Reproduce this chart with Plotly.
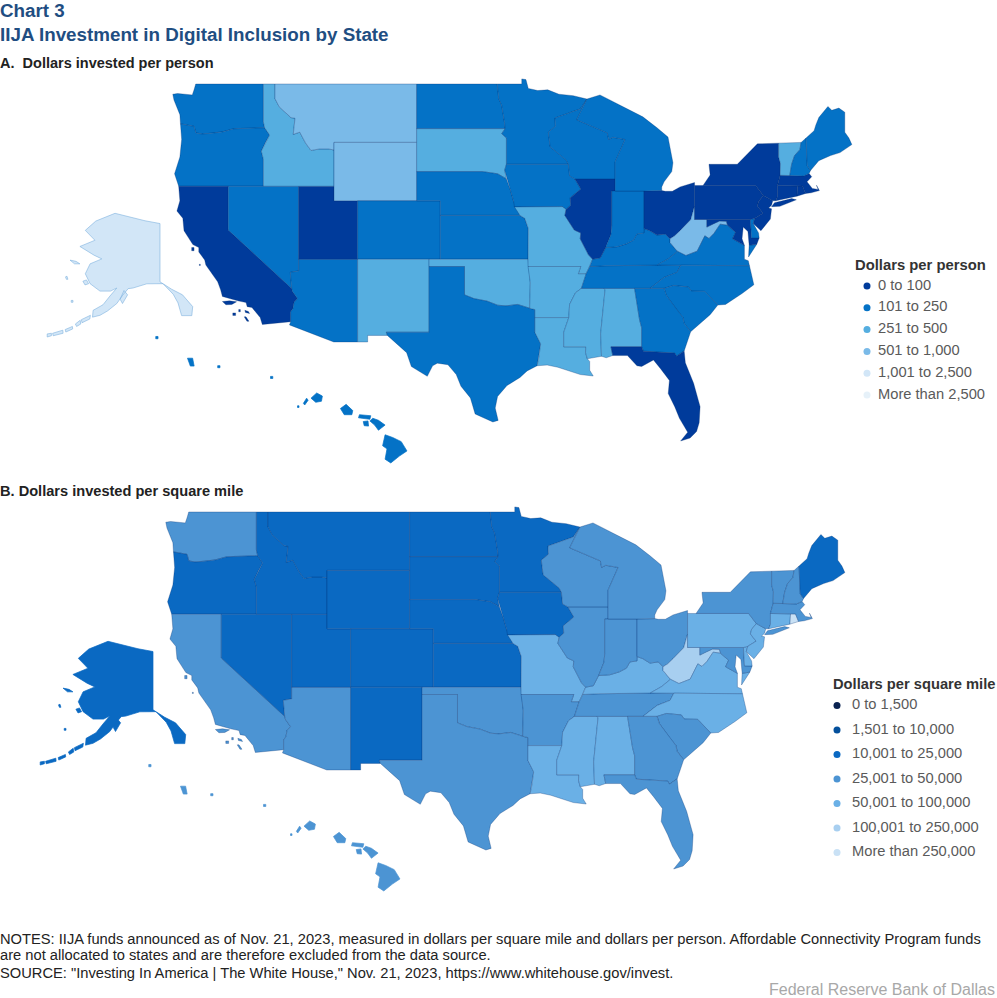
import plotly.graph_objects as go

W, H = 997, 998
FONT = "Arial, Liberation Sans, sans-serif"

STATES = ["WA","OR","CA","NV","AZ","UT","ID","MT","WY","CO","NM","ND","SD","NE","KS","OK","TX","MN","IA","MO","AR","LA",
          "MS","AL","TN","KY","IL","IN","OH","WV","VA","NC","SC","GA","FL","MD","DE","PA","NJ","NY","CT","RI","MA","VT",
          "NH","ME","WI","MI","AK","HI"]
# class index (0 = first legend row)
BIN_PER_PERSON = [1,1,0,1,1,0,2,3,3,1,2,1,2,1,1,2,1,1,1,2,2,2,
                  2,2,1,1,0,1,0,3,1,1,1,1,0,0,1,0,0,0,0,0,0,2,
                  1,1,1,1,4,1]
BIN_PER_SQMILE = [3,2,3,2,3,2,2,2,2,2,2,2,2,2,2,3,3,2,2,4,3,4,
                  4,4,3,4,3,3,3,5,4,4,3,3,3,3,4,4,4,3,4,6,3,3,
                  3,2,3,3,2,3]
LABELS_PERSON = ["0 to 100","101 to 250","251 to 500","501 to 1,000","1,001 to 2,500","More than 2,500"]
LABELS_SQMILE = ["0 to 1,500","1,501 to 10,000","10,001 to 25,000","25,001 to 50,000","50,001 to 100,000",
                 "100,001 to 250,000","More than 250,000"]
COLORS_PERSON = ["#003b9b","#0472c6","#55aee0","#7abae8","#d2e6f7","#e6f1f9"]
COLORS_SQMILE = ["#0a2351","#04509c","#0a69c2","#4c94d3","#6ab0e6","#a8cff0","#c9e1f5"]

# State outlines, longitude / latitude rings
BOUNDARIES = {
"WA":[[(-117.03,49),(-122.76,49),(-122.9,48.6),(-123.05,48.25),(-124.3,48.35),(-124.7,48.3),(-124.6,47.9),(-124.1,46.9),(-124.05,46.27),(-123.4,46.2),(-122.9,46.1),(-122.75,45.65),(-122.2,45.57),(-121.2,45.65),(-120.5,45.72),(-119.6,45.92),(-119.0,45.95),(-116.92,46.0),(-117.03,46.4)]],
"OR":[[(-124.05,46.27),(-123.4,46.2),(-122.9,46.1),(-122.75,45.65),(-122.2,45.57),(-121.2,45.65),(-120.5,45.72),(-119.6,45.92),(-119.0,45.95),(-116.92,46.0),(-116.5,45.5),(-116.85,45.0),(-117.2,44.4),(-117.03,43.85),(-117.03,42),(-124.2,42),(-124.55,42.85),(-124.1,44),(-123.95,45.2)]],
"CA":[[(-124.2,42),(-120,42),(-120,39),(-114.63,35.0),(-114.57,34.8),(-114.14,34.3),(-114.43,34.05),(-114.53,33.6),(-114.72,33.4),(-114.72,32.72),(-117.12,32.53),(-117.3,33.0),(-118.0,33.7),(-118.4,33.75),(-118.5,34.03),(-119.2,34.15),(-120.5,34.45),(-120.65,34.9),(-120.9,35.45),(-121.9,36.6),(-122.0,36.95),(-122.5,37.5),(-122.5,37.8),(-123.0,38.0),(-123.75,38.95),(-123.85,39.8),(-124.35,40.3),(-124.1,41.0)],
      [(-120.5,34.1),(-119.9,34.15),(-119.3,34.08),(-119.7,33.9),(-120.2,33.88)],[(-118.6,33.5),(-118.3,33.42),(-118.2,33.28),(-118.55,33.35)],[(-118.65,33.05),(-118.42,32.75),(-118.25,32.75),(-118.5,33.05)],[(-119.62,33.32),(-119.38,33.32),(-119.38,33.15),(-119.62,33.15)],[(-119.12,33.55),(-118.98,33.55),(-118.98,33.4),(-119.12,33.4)],[(-123.1,37.8),(-122.9,37.8),(-122.9,37.58),(-123.1,37.58)],[(-122.45,36.65),(-122.37,36.65),(-122.37,36.57),(-122.45,36.57)]],
"NV":[[(-120,42),(-114.04,42),(-114.04,36.2),(-114.75,36.1),(-114.63,35.0),(-120,39)]],
"AZ":[[(-114.04,37),(-109.05,37),(-109.05,31.33),(-111.07,31.33),(-114.82,32.5),(-114.72,32.72),(-114.72,33.4),(-114.53,33.6),(-114.43,34.05),(-114.14,34.3),(-114.57,34.8),(-114.63,35.0),(-114.75,36.1),(-114.04,36.2)]],
"UT":[[(-114.04,42),(-111.05,42),(-111.05,41),(-109.05,41),(-109.05,37),(-114.04,37)]],
"ID":[[(-117.03,49),(-116.05,49),(-116.05,48),(-115.7,47.45),(-114.7,46.7),(-114.35,46.65),(-114.5,45.55),(-113.95,45.7),(-113.45,44.95),(-113.0,44.45),(-112.3,44.55),(-111.5,44.55),(-111.05,44.48),(-111.05,42),(-117.03,42),(-117.03,43.85),(-117.2,44.4),(-116.85,45.0),(-116.5,45.5),(-116.92,46.0),(-117.03,46.4)]],
"MT":[[(-116.05,49),(-104.05,49),(-104.05,45),(-111.05,45),(-111.05,44.48),(-111.5,44.55),(-112.3,44.55),(-113.0,44.45),(-113.45,44.95),(-113.95,45.7),(-114.5,45.55),(-114.35,46.65),(-114.7,46.7),(-115.7,47.45),(-116.05,48)]],
"WY":[[(-111.05,45),(-104.05,45),(-104.05,41),(-111.05,41)]],
"CO":[[(-109.05,41),(-102.05,41),(-102.05,37),(-109.05,37)]],
"NM":[[(-109.05,37),(-103,37),(-103,32),(-106.62,32),(-106.53,31.78),(-108.2,31.78),(-108.2,31.33),(-109.05,31.33)]],
"ND":[[(-104.05,49),(-97.23,49),(-97.1,48.0),(-96.85,47.55),(-96.6,46.3),(-96.56,45.94),(-104.05,45.94)]],
"SD":[[(-104.05,45.94),(-96.56,45.94),(-96.85,45.6),(-96.45,45.3),(-96.45,43.5),(-96.6,43.1),(-96.45,42.5),(-97.2,42.85),(-98.5,43),(-104.05,43)]],
"NE":[[(-104.05,43),(-98.5,43),(-97.2,42.85),(-96.45,42.5),(-96.1,41.7),(-95.85,41.0),(-95.3,40.0),(-102.05,40),(-102.05,41),(-104.05,41)]],
"KS":[[(-102.05,40),(-95.3,40),(-94.9,39.8),(-94.6,39.1),(-94.62,37),(-102.05,37)]],
"OK":[[(-103,37),(-94.62,37),(-94.43,35.4),(-94.48,33.64),(-95.5,33.9),(-96.5,33.8),(-97.2,33.85),(-98.1,34.13),(-99.2,34.3),(-100,34.56),(-100,36.5),(-103,36.5)]],
"TX":[[(-103,36.5),(-100,36.5),(-100,34.56),(-99.2,34.3),(-98.1,34.13),(-97.2,33.85),(-96.5,33.8),(-95.5,33.9),(-94.48,33.64),(-94.04,33.55),(-94.04,33),(-94.04,31.99),(-93.55,31.2),(-93.7,30.3),(-93.85,29.7),(-94.7,29.35),(-95.3,28.9),(-96.4,28.35),(-97.2,27.6),(-97.4,26.8),(-97.15,25.96),(-97.6,25.85),(-98.2,26.05),(-99.1,26.4),(-99.5,27.5),(-100.3,28.3),(-100.7,29.1),(-101.4,29.77),(-102.3,29.88),(-102.7,29.7),(-103.15,28.98),(-104.5,29.65),(-104.9,30.6),(-106.53,31.78),(-106.62,32),(-103,32)]],
"MN":[[(-97.23,49),(-95.15,49),(-95.15,49.35),(-94.8,49.3),(-94.6,48.7),(-93.8,48.55),(-92.95,48.6),(-92.0,48.3),(-90.8,48.2),(-89.63,47.97),(-90.2,47.29),(-92.34,46.67),(-92.3,46.1),(-92.9,45.7),(-92.75,44.7),(-91.4,43.8),(-91.2,43.5),(-96.45,43.5),(-96.45,45.3),(-96.85,45.6),(-96.56,45.94),(-96.6,46.3),(-96.85,47.55),(-97.1,48.0)]],
"IA":[[(-96.45,43.5),(-91.2,43.5),(-91.1,42.7),(-90.65,42.5),(-90.15,41.8),(-91.05,41.2),(-91.0,40.7),(-91.4,40.4),(-91.72,40.6),(-95.77,40.58),(-95.85,41.0),(-96.1,41.7),(-96.45,42.5),(-96.6,43.1)]],
"MO":[[(-95.77,40.58),(-91.72,40.6),(-91.4,40.4),(-91.5,40.0),(-90.7,39.0),(-90.15,38.8),(-90.2,38.4),(-89.5,37.3),(-89.15,37.0),(-89.4,36.5),(-89.7,36.0),(-90.37,36.0),(-90.15,36.5),(-94.62,36.5),(-94.62,37),(-94.6,39.1),(-94.9,39.8),(-95.3,40)]],
"AR":[[(-94.62,36.5),(-90.15,36.5),(-90.37,36),(-89.7,36),(-90.1,35.0),(-90.6,34.7),(-91.1,33.9),(-91.17,33),(-94.04,33),(-94.04,33.55),(-94.48,33.64),(-94.43,35.4)]],
"LA":[[(-94.04,33),(-91.17,33),(-91.6,31.99),(-91.6,31),(-89.73,31),(-89.75,30.6),(-89.6,30.18),(-89.4,30.0),(-89.4,29.4),(-89.1,29.0),(-90.2,29.1),(-91.3,29.4),(-92.1,29.6),(-93.0,29.75),(-93.85,29.7),(-93.7,30.3),(-93.55,31.2),(-94.04,31.99)]],
"MS":[[(-90.1,35),(-88.2,35),(-88.1,34.9),(-88.47,31.9),(-88.4,30.35),(-89.6,30.18),(-89.75,30.6),(-89.73,31),(-91.6,31),(-91.6,31.99),(-91.17,33),(-91.1,33.9),(-90.6,34.7)]],
"AL":[[(-88.2,35),(-85.6,35),(-85.18,32.87),(-85.0,32.3),(-85.0,31),(-87.6,31),(-87.45,30.4),(-88.0,30.25),(-88.4,30.35),(-88.47,31.9),(-88.1,34.9)]],
"TN":[[(-90.1,35),(-89.7,36),(-89.4,36.5),(-88.05,36.55),(-83.68,36.6),(-81.68,36.59),(-82.0,36.1),(-83.1,35.75),(-84.3,35.0),(-85.6,35),(-88.2,35)]],
"KY":[[(-89.4,36.5),(-89.15,37),(-88.5,37.1),(-88.05,37.8),(-87.1,37.85),(-86.3,38.05),(-85.7,38.3),(-85.4,38.73),(-84.8,38.8),(-84.8,39.1),(-84.3,38.95),(-83.7,38.65),(-83.0,38.73),(-82.6,38.4),(-82.6,38.15),(-81.97,37.54),(-82.7,37.05),(-83.68,36.6),(-88.05,36.55)]],
"IL":[[(-90.65,42.5),(-87.25,42.5),(-87.25,41.67),(-87.53,41.67),(-87.53,39.3),(-87.6,38.7),(-88.05,37.8),(-88.5,37.1),(-89.15,37),(-89.5,37.3),(-90.2,38.4),(-90.15,38.8),(-90.7,39),(-91.5,40),(-91.4,40.4),(-91,40.7),(-91.05,41.2),(-90.15,41.8)]],
"IN":[[(-87.53,41.67),(-84.8,41.67),(-84.8,39.1),(-84.8,38.8),(-85.4,38.73),(-85.7,38.3),(-86.3,38.05),(-87.1,37.85),(-88.05,37.8),(-87.6,38.7),(-87.53,39.3)]],
"OH":[[(-84.8,41.67),(-83.3,41.7),(-83.0,41.65),(-82.4,41.65),(-81.75,41.95),(-80.52,42.25),(-80.52,40.64),(-80.85,39.7),(-81.75,38.95),(-82.2,38.6),(-82.6,38.4),(-83,38.73),(-83.7,38.65),(-84.3,38.95),(-84.8,39.1)]],
"WV":[[(-80.52,40.64),(-80.52,39.72),(-79.48,39.72),(-79.48,39.2),(-78.9,39.45),(-78.4,39.62),(-77.83,39.6),(-77.72,39.32),(-78.35,39.4),(-78.87,38.77),(-79.3,38.42),(-79.65,38.6),(-80.3,37.55),(-81.25,37.25),(-81.97,37.54),(-82.6,38.15),(-82.6,38.4),(-82.2,38.6),(-81.75,38.95),(-80.85,39.7)]],
"VA":[[(-83.68,36.6),(-82.7,37.05),(-81.97,37.54),(-81.25,37.25),(-80.3,37.55),(-79.65,38.6),(-79.3,38.42),(-78.87,38.77),(-78.35,39.4),(-77.72,39.32),(-77.05,38.85),(-77.3,38.4),(-76.3,37.95),(-76.3,37.0),(-75.97,36.9),(-75.87,36.55),(-81.68,36.59)],[(-75.9,37.95),(-75.25,38.03),(-75.95,37.15)]],
"NC":[[(-84.3,35),(-83.1,35.75),(-82,36.1),(-81.68,36.59),(-75.87,36.55),(-75.5,35.25),(-76.5,34.65),(-77.9,33.9),(-78.55,33.86),(-79.67,34.8),(-80.8,34.82),(-81.05,35.1),(-82.3,35.2),(-83.1,35.0)]],
"SC":[[(-83.1,35.0),(-82.3,35.2),(-81.05,35.1),(-80.8,34.82),(-79.67,34.8),(-78.55,33.86),(-79.2,33.2),(-80.0,32.6),(-80.85,32.03),(-81.4,32.6),(-81.5,33.0),(-82.0,33.5),(-82.9,34.5)]],
"GA":[[(-85.6,35),(-84.3,35),(-83.1,35),(-82.9,34.5),(-82,33.5),(-81.5,33),(-81.4,32.6),(-80.85,32.03),(-81.4,30.72),(-82.05,30.36),(-82.2,30.57),(-84.86,30.7),(-85,31),(-85,32.3),(-85.18,32.87)]],
"FL":[[(-87.6,31),(-85,31),(-84.86,30.7),(-82.2,30.57),(-82.05,30.36),(-81.4,30.72),(-81.3,29.9),(-80.6,28.5),(-80.05,26.9),(-80.13,25.8),(-80.35,25.2),(-80.9,24.75),(-81.7,24.55),(-81.1,25.15),(-81.8,26.1),(-82.2,26.9),(-82.75,27.8),(-82.65,28.7),(-83.4,29.5),(-84.0,30.1),(-85.0,29.65),(-85.4,29.7),(-86.2,30.4),(-87.45,30.4)]],
"MD":[[(-79.48,39.72),(-75.79,39.72),(-75.7,38.46),(-75.05,38.45),(-75.25,38.03),(-75.9,37.95),(-76.0,38.9),(-76.4,39.2),(-76.5,38.4),(-76.3,37.95),(-77.3,38.4),(-77.05,38.85),(-77.72,39.32),(-77.83,39.6),(-78.4,39.62),(-78.9,39.45),(-79.48,39.2)]],
"DE":[[(-75.79,39.72),(-75.42,39.8),(-75.55,39.45),(-75.1,38.8),(-75.05,38.45),(-75.7,38.46)]],
"PA":[[(-80.52,42.05),(-79.8,42.05),(-75.35,42.05),(-74.7,41.36),(-75.1,40.95),(-75.2,40.65),(-74.72,40.15),(-75.42,39.8),(-75.79,39.72),(-80.52,39.72)]],
"NJ":[[(-74.7,41.36),(-73.9,41.0),(-74.0,40.7),(-74.25,40.5),(-74.0,40.45),(-74.1,39.75),(-74.9,38.95),(-75.55,39.45),(-75.42,39.8),(-74.72,40.15),(-75.2,40.65),(-75.1,40.95)]],
"NY":[[(-79.8,42.05),(-79.2,42.77),(-79.3,43.5),(-76.9,43.5),(-75.2,44.9),(-73.4,44.95),(-73.4,44.0),(-73.25,43.55),(-73.27,42.75),(-73.5,42.05),(-73.5,41.3),(-73.65,41),(-73.9,41.0),(-74.7,41.36),(-75.35,42.05)],[(-74.0,40.6),(-73.75,40.87),(-72.3,41.15),(-71.9,41.07),(-73.3,40.62)]],
"CT":[[(-73.5,42.05),(-71.8,42.02),(-71.85,41.32),(-73.65,41),(-73.5,41.3)]],
"RI":[[(-71.8,42.02),(-71.38,42.02),(-71.12,41.5),(-71.85,41.32)]],
"MA":[[(-73.5,42.05),(-73.27,42.75),(-72.46,42.73),(-71.3,42.7),(-70.82,42.87),(-70.6,42.65),(-71.0,42.3),(-70.55,41.85),(-70.05,41.78),(-70.2,42.07),(-69.95,41.7),(-70.65,41.55),(-71.12,41.5),(-71.38,42.02),(-71.8,42.02)]],
"VT":[[(-73.4,44.95),(-71.5,45),(-71.6,44.5),(-72.05,44.1),(-72.3,43.5),(-72.46,42.73),(-73.27,42.75),(-73.25,43.55),(-73.4,44)]],
"NH":[[(-71.5,45),(-71.08,45.3),(-70.98,43.4),(-70.7,43.07),(-70.82,42.87),(-71.3,42.7),(-72.46,42.73),(-72.3,43.5),(-72.05,44.1),(-71.6,44.5)]],
"ME":[[(-71.08,45.3),(-70.4,45.8),(-70.25,46.2),(-70.0,46.7),(-69.23,47.46),(-68.9,47.2),(-68.3,47.35),(-67.8,47.07),(-67.8,45.7),(-67.45,45.3),(-67.2,44.85),(-68.2,44.3),(-69.0,44.1),(-70.0,43.75),(-70.7,43.07),(-70.98,43.4)]],
"WI":[[(-92.34,46.67),(-90.2,47.29),(-89.63,47.97),(-90.5,46.55),(-87.9,45.65),(-87.8,45.2),(-87.45,45.35),(-86.4,45.2),(-87.25,43.65),(-87.25,42.5),(-90.65,42.5),(-91.1,42.7),(-91.2,43.5),(-91.4,43.8),(-92.75,44.7),(-92.9,45.7),(-92.3,46.1)]],
"MI":[[(-89.63,47.97),(-88.53,48.25),(-84.9,46.75),(-84.4,46.45),(-83.7,46.0),(-82.77,45.37),(-82.35,43.6),(-82.45,43.0),(-83.1,42.3),(-83.3,41.95),(-83.3,41.7),(-84.8,41.67),(-87.25,41.67),(-87.25,43.65),(-86.4,45.2),(-87.45,45.35),(-87.8,45.2),(-87.9,45.65),(-90.5,46.55)]],
"AK":[[(-156,71.35),(-152,70.85),(-146,70.15),(-141,69.7),(-141,60.3),(-137.1,59.1),(-133.5,58.2),(-130.1,56.3),(-130.4,54.85),(-133.8,54.85),(-135,56.9),(-136.6,58.3),(-140,60),(-145.4,59.98),(-150,59.3),(-151.6,59.2),(-153.5,58.1),(-155.4,56.8),(-158.5,55.6),(-161,54.9),(-163.5,54.6),(-163.3,55.7),(-160,56.6),(-157.7,58.0),(-155.4,59.3),(-157.5,58.8),(-161,58.8),(-164.3,60),(-165.9,61.6),(-164.3,63.2),(-160.4,64),(-163,64.6),(-167.7,66),(-162.7,67),(-165.9,68.6),(-162.4,70.1)],
      [(-171,63.8),(-169,63.6),(-167.7,63.2),(-169.5,63.2)],[(-166.7,60.4),(-165.5,60.6),(-164.8,60.0),(-166,59.8)],[(-154.3,57.5),(-153,58.9),(-151.8,58.2),(-153.5,56.8)],[(-172.5,61.1),(-172,61.2),(-171.7,60.7),(-172.2,60.7)],[(-170.6,57.3),(-170,57.3),(-170,57),(-170.6,57)],
      [(-167.2,54.2),(-164.2,54.9),(-164.4,54.3),(-167,53.7)],[(-169.2,53.5),(-167.6,54.1),(-167.4,53.5),(-168.8,53.1)],[(-172.6,52.6),(-170.2,53.1),(-170.1,52.7),(-172.4,52.2)],[(-176.8,52.0),(-173.4,52.5),(-173.3,52.0),(-176.6,51.6)],[(-178.6,51.9),(-177.2,52.0),(-177.2,51.6),(-178.6,51.4)]],
"HI":[[(-155.95,20.28),(-155.55,20.15),(-155.1,19.95),(-154.8,19.5),(-155.2,19.25),(-155.65,18.92),(-155.95,19.1),(-155.85,19.6),(-156.08,19.75)],[(-156.75,20.95),(-156.6,21.08),(-156.3,20.98),(-155.95,20.75),(-156.3,20.5),(-156.5,20.75)],[(-157.35,21.1),(-157.3,21.25),(-156.7,21.2),(-156.75,21.03)],[(-157.1,20.92),(-156.85,20.95),(-156.82,20.7),(-157.05,20.72)],[(-158.3,21.55),(-158.0,21.75),(-157.65,21.45),(-157.7,21.25),(-158.1,21.25)],[(-159.85,22.05),(-159.55,22.3),(-159.25,22.15),(-159.3,21.9),(-159.6,21.85)],[(-160.25,21.8),(-160.08,22.05),(-160.0,21.95),(-160.18,21.72)],
      [(-160.56,21.68),(-160.48,21.68),(-160.48,21.6),(-160.56,21.6)],[(-161.98,23.1),(-161.86,23.1),(-161.86,23.0),(-161.98,23.0)],[(-164.76,23.62),(-164.64,23.62),(-164.64,23.52),(-164.76,23.52)],[(-166.35,23.98),(-166.08,23.98),(-166.0,23.6),(-166.2,23.6)],[(-168.02,25.03),(-167.9,25.03),(-167.9,24.92),(-168.02,24.92)]],
}

INSET_AK, INSET_HI = {"AK"}, {"HI"}

# Pixel calibration of each panel: x0 + (lon - lon0) * sx, y0 + (lat0 - lat) * sy
def panel_domain(lon_rng, lat_rng, x_at, y_at, dx, dy):
    xs = [x_at(v) + dx for v in lon_rng]
    ys = [y_at(v) + dy for v in lat_rng]
    return [xs[0] / W, xs[1] / W], [1 - ys[0] / H, 1 - ys[1] / H]

PANELS = {
    "main": ((-125.5, -66), (24, 50), lambda v: 334 + (v + 111.05) * 11.81, lambda v: 84 + (49 - v) * 14.6),
    "ak": ((-180, -128), (50, 72), lambda v: 160 + (v + 141) * 3.0, lambda v: 213 + (71.4 - v) * 6.2),
    "hi": ((-170, -154), (18, 26), lambda v: 383 + (v + 156.06) * 19, lambda v: 435 + (20.27 - v) * 20.7),
}

fig = go.Figure()
layout_axes = {}
axis_no = [0]

def new_axes(xrange, yrange, xdom, ydom):
    axis_no[0] += 1
    n = axis_no[0]
    sfx = "" if n == 1 else str(n)
    common = dict(visible=False, fixedrange=True, showgrid=False, zeroline=False)
    layout_axes["xaxis" + sfx] = dict(range=list(xrange), domain=xdom, anchor="y" + sfx, **common)
    layout_axes["yaxis" + sfx] = dict(range=list(yrange), domain=ydom, anchor="x" + sfx, **common)
    return "x" + sfx, "y" + sfx

def add_map(bins, colors, dx, dy):
    axes = {}
    for key, (lon_r, lat_r, fx, fy) in PANELS.items():
        xd, yd = panel_domain(lon_r, lat_r, fx, fy, dx, dy)
        axes[key] = new_axes(lon_r, lat_r, xd, yd)
    for st, b in zip(STATES, bins):
        key = "ak" if st in INSET_AK else "hi" if st in INSET_HI else "main"
        lons, lats = [], []
        for ring in BOUNDARIES[st]:
            closed = ring + [ring[0]]
            lons += [p[0] for p in closed] + [None]
            lats += [p[1] for p in closed] + [None]
        line_col = "rgba(0,45,110,0.42)"
        if st == "AK" and b == 4:
            line_col = "rgba(120,175,220,0.8)"
        elif st == "AK" or st == "HI":
            line_col = colors[b]
        fig.add_trace(go.Scatter(x=lons, y=lats, mode="lines", fill="toself", fillcolor=colors[b],
                                 line=dict(color=line_col, width=0.7), name=st, showlegend=False,
                                 hoverinfo="name", xaxis=axes[key][0], yaxis=axes[key][1]))

def add_key(labels, colors, x_mark, x_text, y_first, y_step):
    n = len(labels)
    x0, x1 = x_mark - 8, 997
    top, bottom = y_first - y_step / 2, y_first + (n - 0.5) * y_step
    xa, ya = new_axes((x0, x1), (n - 0.5, -0.5), [x0 / W, x1 / W], [1 - bottom / H, 1 - top / H])
    fig.add_trace(go.Scatter(x=[x_mark] * n, y=list(range(n)), mode="markers",
                             marker=dict(size=7, color=colors, line=dict(width=0)),
                             showlegend=False, hoverinfo="skip", xaxis=xa, yaxis=ya, cliponaxis=False))
    fig.add_trace(go.Scatter(x=[x_text] * n, y=list(range(n)), mode="text", text=labels,
                             textposition="middle right",
                             textfont=dict(family=FONT, size=14.7, color="#5a5a5a"),
                             showlegend=False, hoverinfo="text", xaxis=xa, yaxis=ya, cliponaxis=False))

add_map(BIN_PER_PERSON, COLORS_PERSON, 0, 0)
add_map(BIN_PER_SQMILE, COLORS_SQMILE, -7, 428)
add_key(LABELS_PERSON, COLORS_PERSON, 867, 878, 286, 21.8)
add_key(LABELS_SQMILE, COLORS_SQMILE, 837, 852, 705.5, 24.5)

def text(s, x, y, size, color, bold=False, anchor="left"):
    return dict(text=("<b>%s</b>" % s) if bold else s, x=x / W, y=1 - y / H, xref="paper", yref="paper",
                xanchor=anchor, yanchor="middle", showarrow=False, align="left",
                font=dict(family=FONT, size=size, color=color))

annotations = [
    text("Chart 3", -2, 11, 18.8, "#1f4e82", True),
    text("IIJA Investment in Digital Inclusion by State", -2, 35, 18.8, "#1f4e82", True),
    text("A.  Dollars invested per person", -2, 63, 14.5, "#222222", True),
    text("B. Dollars invested per square mile", -2, 491, 14.6, "#222222", True),
    text("Dollars per person", 853, 265, 14.8, "#333333", True),
    text("Dollars per square mile", 831, 684, 14.7, "#333333", True),
    text("NOTES: IIJA funds announced as of Nov. 21, 2023, measured in dollars per square mile and dollars per person. Affordable Connectivity Program funds", -2, 939, 14.7, "#222222"),
    text("are not allocated to states and are therefore excluded from the data source.", -2, 955, 14.7, "#222222"),
    text("SOURCE: \"Investing In America | The White House,\" Nov. 21, 2023, https://www.whitehouse.gov/invest.", -2, 973, 14.7, "#222222"),
    text("Federal Reserve Bank of Dallas", 997, 989, 16, "#a8a8a8", anchor="right"),
]

fig.update_layout(width=W, height=H, margin=dict(l=0, r=0, t=0, b=0), paper_bgcolor="white", plot_bgcolor="rgba(0,0,0,0)",
                  showlegend=False, annotations=annotations, **layout_axes)
fig.write_html("out.html", post_script="document.body.style.margin='0';", config={"displayModeBar": False})
